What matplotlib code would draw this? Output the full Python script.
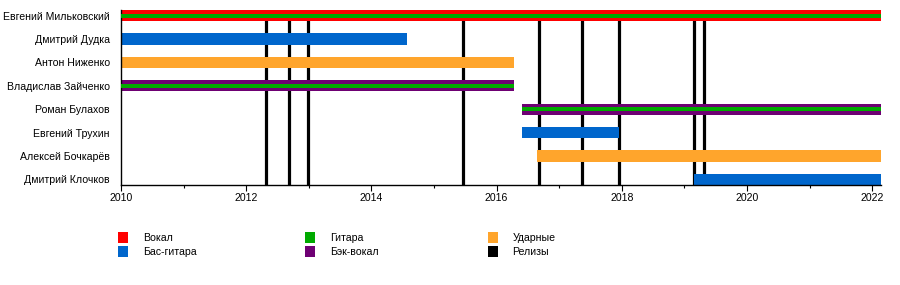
import matplotlib
matplotlib.use("Agg")
import matplotlib.pyplot as plt
from matplotlib.patches import Patch
from matplotlib.ticker import MultipleLocator

plt.rcParams["font.family"] = ["Liberation Sans", "DejaVu Sans"]
plt.rcParams["font.size"] = 7.6

# ---------------- data ----------------
members = ["Евгений Мильковский", "Дмитрий Дудка", "Антон Ниженко",
           "Владислав Зайченко", "Роман Булахов", "Евгений Трухин",
           "Алексей Бочкарёв", "Дмитрий Клочков"]
starts  = [2010.0, 2010.0, 2010.0, 2010.0, 2016.40, 2016.40, 2016.64, 2019.16]
ends    = [2022.14, 2014.57, 2016.27, 2016.27, 2022.14, 2017.95, 2022.14, 2022.14]
# main role, secondary role (None = only one)
main_role = ["vocal", "bass", "drums", "backing", "backing", "bass", "drums", "bass"]
sub_role  = ["guitar", None, None, "guitar", "guitar", None, None, None]

releases = [2012.31, 2012.68, 2012.98, 2015.46, 2016.67, 2017.37, 2017.96, 2019.16, 2019.32]

roles  = ["vocal", "bass", "guitar", "backing", "drums", "releases"]
labels = ["Вокал", "Бас-гитара", "Гитара", "Бэк-вокал", "Ударные", "Релизы"]
colors = {"vocal": "#ff0000", "bass": "#0066cc", "guitar": "#00aa00",
          "backing": "#6e0073", "drums": "#ffa52c", "releases": "#000000"}

X_MIN, X_MAX = 2010, 2022.14

# ---------------- figure ----------------
fig = plt.figure(figsize=(9, 2.85), dpi=100)
ax = fig.add_axes([121/900, 1-185/285, (881-121)/900, 175/285])

h = 0.48
ax.vlines(releases, -h/2, len(members)-1+h/2, color="black", lw=2.3, zorder=1)

for i, m in enumerate(members):
    ax.barh(i, ends[i]-starts[i], left=starts[i], height=h,
            color=colors[main_role[i]], zorder=2, linewidth=0)
    if sub_role[i]:
        ax.barh(i, ends[i]-starts[i], left=starts[i], height=h*0.36,
                color=colors[sub_role[i]], zorder=3, linewidth=0)

ax.set_xlim(X_MIN, X_MAX)
ax.set_ylim(len(members)-1+h/2, -h/2)
ax.set_yticks(range(len(members)))
ax.set_yticklabels(members)
ax.tick_params(axis="y", length=0, pad=8)
ax.xaxis.set_major_locator(MultipleLocator(2))
ax.xaxis.set_minor_locator(MultipleLocator(1))
ax.tick_params(axis="x", which="major", length=4, width=0.8, pad=2)
ax.tick_params(axis="x", which="minor", length=2.5, width=0.8)
for s in ("top", "right"):
    ax.spines[s].set_visible(False)
for s in ("left", "bottom"):
    ax.spines[s].set_linewidth(1)

handles = [Patch(facecolor=colors[r], edgecolor="none", label=l) for r, l in zip(roles, labels)]
fig.legend(handles=handles, ncol=3, loc="upper left",
           bbox_to_anchor=(113/900, 1-227/285), frameon=False, borderpad=0,
           handlelength=0.95, handleheight=1.15, handletextpad=1.4,
           columnspacing=10.3, labelspacing=0.3, fontsize=7.6)

fig.savefig("out.png", dpi=100)
